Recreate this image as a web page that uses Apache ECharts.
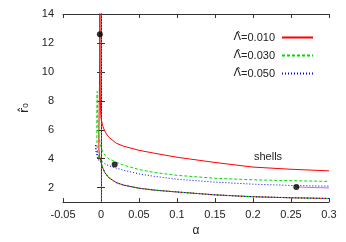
<!DOCTYPE html>
<html><head><meta charset="utf-8">
<script src="https://cdn.jsdelivr.net/npm/echarts@6/dist/echarts.min.js"></script>
<style>html,body{margin:0;padding:0;background:#fff}#c{width:346px;height:242px}</style>
</head><body><div id="c"></div>
<script>
const FONT = 'Liberation Sans, Arial, Helvetica, sans-serif';
const seriesNames = ['Λ̂=0.010', 'Λ̂=0.030', 'Λ̂=0.050'];
const yTicks = [2, 4, 6, 8, 10, 12, 14];

// common lower branch (from alpha=0.3 leftwards to alpha=0)
const lowerAlpha = [0.3, 0.25, 0.2, 0.15, 0.1, 0.07, 0.05, 0.03, 0.02, 0.01, 0.005, 0.002, 0];
const lowerR     = [1.25, 1.30, 1.37, 1.50, 1.70, 1.83, 1.96, 2.17, 2.35, 2.70, 3.05, 3.40, 3.75];

// Lambda = 0.010
const red010TurnAlpha = [-0.002, -0.0027, -0.0028, -0.0025, -0.002, -0.0017, -0.0016, -0.0015];
const red010TurnR     = [4.2, 4.6, 5.5, 7.0, 9.0, 11.0, 13.0, 14.5];
const red010UpAlpha = [-0.0014, -0.0013, -0.0012, -0.001, -0.0005, 0, 0.002, 0.005, 0.01, 0.02, 0.03, 0.05, 0.07, 0.1, 0.15, 0.2, 0.25, 0.3];
const red010UpR     = [14.5, 12.0, 10.0, 8.5, 7.3, 6.8, 6.3, 5.9, 5.5, 5.07, 4.86, 4.58, 4.38, 4.1, 3.74, 3.42, 3.27, 3.16];

// Lambda = 0.030
const green030TurnAlpha = [-0.002, -0.004, -0.005, -0.0055, -0.0055, -0.005];
const green030TurnR     = [4.0, 4.3, 4.7, 5.5, 7.0, 8.65];
const green030UpAlpha = [-0.0048, -0.0045, -0.004, -0.003, -0.001, 0.002, 0.005, 0.01, 0.02, 0.03, 0.05, 0.07, 0.1, 0.15, 0.2, 0.25, 0.3];
const green030UpR     = [7.8, 7.0, 6.3, 5.6, 5.0, 4.5, 4.25, 4.0, 3.75, 3.55, 3.25, 3.05, 2.85, 2.65, 2.54, 2.48, 2.43];

// Lambda = 0.050
const blue050TurnAlpha = [-0.002, -0.004, -0.006, -0.007, -0.007];
const blue050TurnR     = [3.8, 3.95, 4.3, 4.6, 5.0];
const blue050UpAlpha = [-0.0065, -0.005, -0.003, -0.001, 0.002, 0.005, 0.01, 0.02, 0.03, 0.05, 0.07, 0.1, 0.15, 0.2, 0.25, 0.3];
const blue050UpR     = [4.7, 4.35, 4.1, 3.95, 3.78, 3.65, 3.52, 3.35, 3.2, 2.95, 2.78, 2.58, 2.38, 2.24, 2.15, 2.1];

// magenta segment & black dots
const magAlpha = [0.257, 0.3];
const magR     = [2.04, 1.98];
const dotAlpha = [-0.0015, 0.018, 0.257];
const dotR     = [12.6, 3.6, 2.04];

// x = 0 guide line
const guideAlpha = [0, 0];
const guideR = [1, 14];

function pairs(a, b) { return a.map((v, i) => [v, b[i]]); }
function branch(turnA, turnR, upA, upR) {
  return pairs(lowerAlpha, lowerR).concat(pairs(turnA, turnR), pairs(upA, upR));
}

const chart = echarts.init(document.getElementById('c'), null, {renderer: 'canvas'});
const axisLine = {show: true, lineStyle: {color: '#333', width: 1}};
const tickIn = {show: true, inside: true, length: 4, lineStyle: {color: '#333'}};
const labelStyle = {color: '#222', fontSize: 11, fontFamily: FONT};

chart.setOption({
  animation: false,
  backgroundColor: '#fff',
  grid: {left: 63, right: 17, top: 14, bottom: 38},
  legend: {
    data: seriesNames, orient: 'vertical', right: 32, top: 32, padding: 0,
    align: 'right', itemWidth: 31, itemHeight: 10, itemGap: 7,
    itemStyle: {opacity: 0},
    formatter: function (name) { return '{g|Λ̂}' + name.slice(2); },
    textStyle: {color: '#222', fontSize: 11, fontFamily: FONT, padding: [0, 2, 0, 0],
      rich: {g: {fontFamily: 'DejaVu Sans', fontSize: 11, color: '#222'}}}
  },
  xAxis: [
    {type: 'value', min: -0.05, max: 0.3, interval: 0.05, position: 'bottom',
     axisLine, axisTick: tickIn, splitLine: {show: false},
     axisLabel: Object.assign({margin: 7}, labelStyle),
     name: 'α', nameLocation: 'middle', nameGap: 22,
     nameTextStyle: {color: '#222', fontSize: 12, fontFamily: FONT}},
    {type: 'value', min: -0.05, max: 0.3, interval: 0.05, position: 'top',
     axisLine, axisTick: tickIn, splitLine: {show: false}, axisLabel: {show: false}}
  ],
  yAxis: [
    {type: 'value', min: 1, max: 14, position: 'left',
     axisLine, splitLine: {show: false},
     axisTick: Object.assign({customValues: yTicks}, tickIn),
     axisLabel: Object.assign({margin: 9, customValues: yTicks}, labelStyle),
     name: 'r̂₀', nameLocation: 'middle', nameGap: 30, nameRotate: 90,
     nameTextStyle: {color: '#222', fontSize: 12, fontFamily: 'DejaVu Sans'}},
    {type: 'value', min: 1, max: 14, position: 'right',
     axisLine, splitLine: {show: false},
     axisTick: Object.assign({customValues: yTicks}, tickIn),
     axisLabel: {show: false, customValues: yTicks}}
  ],
  graphic: [{type: 'text', left: 254, top: 151,
    style: {text: 'shells', fill: '#222', fontSize: 11, fontFamily: FONT}}],
  series: [
    {type: 'line', name: 'guide', data: pairs(guideAlpha, guideR), symbol: 'none', silent: true,
     lineStyle: {color: '#c8c8c8', width: 1, type: [1, 2]}, z: 1},
    {type: 'line', name: seriesNames[0], data: branch(red010TurnAlpha, red010TurnR, red010UpAlpha, red010UpR),
     symbol: 'none', lineStyle: {color: '#ff0000', width: 1}, itemStyle: {color: '#ff0000'}, z: 2},
    {type: 'line', name: seriesNames[1], data: branch(green030TurnAlpha, green030TurnR, green030UpAlpha, green030UpR),
     symbol: 'none', lineStyle: {color: '#00dd00', width: 1, type: [3, 2]}, itemStyle: {color: '#00dd00'}, z: 3},
    {type: 'line', name: seriesNames[2], data: branch(blue050TurnAlpha, blue050TurnR, blue050UpAlpha, blue050UpR),
     symbol: 'none', lineStyle: {color: '#0000ff', width: 1, type: [1, 2]}, itemStyle: {color: '#0000ff'}, z: 4},
    {type: 'line', name: 'mag', data: pairs(magAlpha, magR), symbol: 'none',
     lineStyle: {color: '#e060e0', width: 1}, z: 5},
    {type: 'scatter', name: 'dots', data: pairs(dotAlpha, dotR), symbol: 'circle', symbolSize: 6,
     itemStyle: {color: '#000'}, z: 6}
  ]
});
</script></body></html>
